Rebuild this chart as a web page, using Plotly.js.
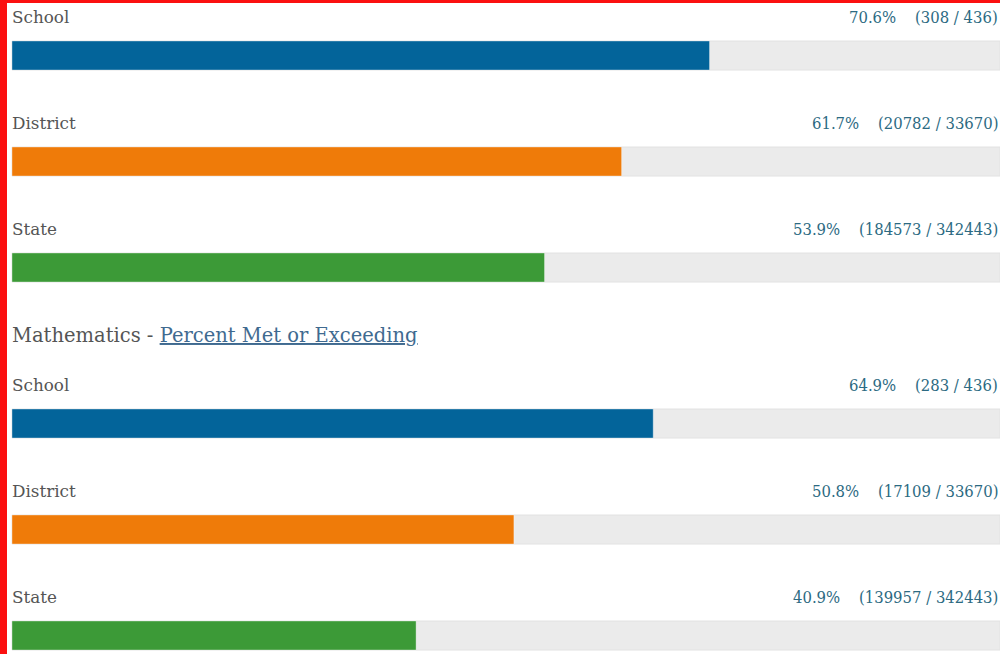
<!DOCTYPE html>
<html>
<head>
<meta charset="utf-8">
<script src="https://cdn.plot.ly/plotly-3.0.1.min.js"></script>
<style>html,body{margin:0;padding:0;background:#fff;}#chart{width:1000px;height:654px;}</style>
</head>
<body>
<div id="chart"></div>
<script>
// ---- data ----
const groups = ["", "Mathematics"];
const categories = ["School", "District", "State"];
const elaPercent = [70.6, 61.7, 53.9];
const elaMet = [308, 20782, 184573];
const elaTotal = [436, 33670, 342443];
const mathPercent = [64.9, 50.8, 40.9];
const mathMet = [283, 17109, 139957];
const mathTotal = [436, 33670, 342443];
const headingLink = "Percent Met or Exceeding";

// ---- layout helpers (pixel-like y scale) ----
const colors = ["#03649a", "#ef7b09", "#3c9a37"];
const groupStart = [55.5, 423.5];
const rowGap = 106;
const labelFont = "DejaVu Serif, serif";
const numFont = "DejaVu Serif Condensed, DejaVu Serif, serif";

const traces = [];
const annotations = [];
const sets = [
  {pct: elaPercent, met: elaMet, tot: elaTotal},
  {pct: mathPercent, met: mathMet, tot: mathTotal}
];
sets.forEach((s, g) => {
  const ys = categories.map((c, i) => groupStart[g] + i * rowGap);
  traces.push({
    type: "bar", orientation: "h", x: ys.map(() => 100), y: ys, width: 29,
    marker: {color: "#ebebeb", line: {color: "#e2e2e2", width: 1}},
    hoverinfo: "skip", showlegend: false
  });
  traces.push({
    type: "bar", orientation: "h", x: s.pct, y: ys, width: 29,
    marker: {color: colors, line: {color: colors.map(() => "rgba(255,255,255,0.35)"), width: 1}},
    showlegend: false
  });
  categories.forEach((c, i) => {
    annotations.push({
      xref: "paper", yref: "y", x: 0.0095, y: ys[i] - 38.5, xanchor: "left", yanchor: "middle",
      text: c, showarrow: false, font: {family: labelFont, size: 16.8, color: "#555"}
    });
    annotations.push({
      xref: "paper", yref: "y", x: 0.9995, y: ys[i] - 38.5, xanchor: "right", yanchor: "middle",
      text: s.pct[i].toFixed(1) + "%\u00a0\u00a0\u00a0\u00a0(" + s.met[i] + " / " + s.tot[i] + ")",
      showarrow: false, font: {family: numFont, size: 16.5, color: "#2c6a82"}
    });
  });
  if (groups[g]) {
    annotations.push({
      xref: "paper", yref: "y", x: 0.0095, y: ys[0] - 88.5, xanchor: "left", yanchor: "middle",
      text: groups[g] + " - <span style=\"text-decoration:underline;fill:#3f6a90\">" + headingLink + "</span>",
      showarrow: false, font: {family: labelFont, size: 19.5, color: "#555"}
    });
  }
});

const layout = {
  width: 1000, height: 654,
  margin: {l: 0, r: 0, t: 0, b: 0, pad: 0},
  paper_bgcolor: "#fff", plot_bgcolor: "#fff",
  barmode: "overlay",
  xaxis: {range: [-12 / 9.88, 100], visible: false, fixedrange: true},
  yaxis: {range: [654, 0], visible: false, fixedrange: true},
  annotations: annotations,
  shapes: [
    {type: "rect", xref: "paper", yref: "paper", x0: 0, x1: 0.007, y0: 0, y1: 1, fillcolor: "#fb1010", line: {width: 0}},
    {type: "rect", xref: "paper", yref: "paper", x0: 0, x1: 1, y0: 1 - 3 / 654, y1: 1, fillcolor: "#fb1010", line: {width: 0}}
  ]
};
Plotly.newPlot("chart", traces, layout, {displayModeBar: false, staticPlot: true});
</script>
</body>
</html>
